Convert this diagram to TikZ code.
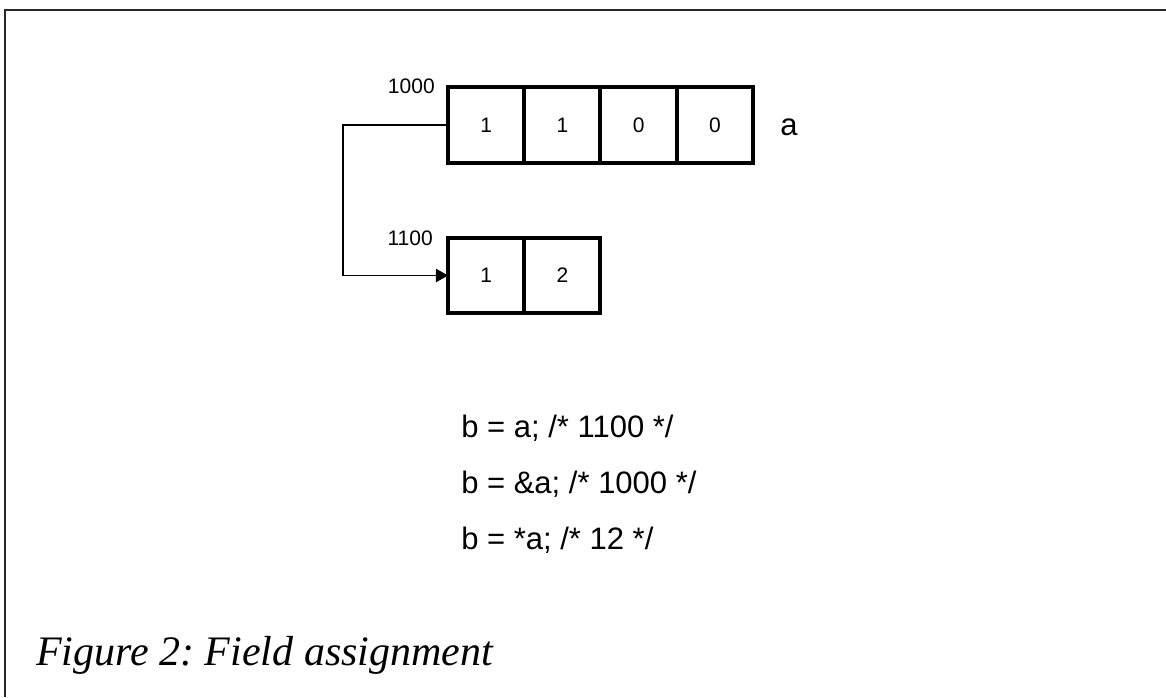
\documentclass[tikz,border=0pt]{standalone}
\usepackage{fontspec}
\setmainfont{Liberation Sans}
\newfontfamily\capfont{Liberation Serif}
\usetikzlibrary{arrows.meta}
\frenchspacing
\tikzset{
  cell/.style={draw=black, line width=3pt, minimum width=76.25*0.75pt, minimum height=76*0.75pt,
    inner sep=0pt, outer sep=0pt, font=\fontsize{15.75pt}{18pt}\selectfont},
  addr/.style={anchor=base east, inner sep=0pt, font=\fontsize{15.75pt}{18pt}\selectfont},
  code/.style={anchor=base west, inner sep=0pt, font=\fontsize{23.25pt}{27pt}\selectfont},
  conn/.style={line width=1.1pt, -{Triangle[length=9pt,width=10pt]}},
  frame/.style={line width=1.5pt, draw=black!85}
}
\begin{document}
\begin{tikzpicture}[x=0.75pt,y=-0.75pt]
\useasboundingbox (0,0) rectangle (1166,697);
\draw[frame] (5,697) -- (5,10) -- (1166,10);
% top array
\node[cell] (a1) at (486.1,125) {1};
\node[cell, anchor=west] (a2) at (a1.east) {1};
\node[cell, anchor=west] (a3) at (a2.east) {0};
\node[cell, anchor=west] (a4) at (a3.east) {0};
% bottom array
\node[cell, minimum height=75*0.75pt] (b1) at (486.1,275.5) {1};
\node[cell, minimum height=75*0.75pt, anchor=west] (b2) at (b1.east) {2};
% labels
\node[addr] (l1000) at ([shift={(-13,6)}]a1.north west) {1000};
\node[addr] (l1100) at ([shift={(-15,7)}]b1.north west) {1100};
\node[code] (alabel) at (780,135) {a};
% connector
\coordinate (bend) at (343,125);
\draw[conn] (a1.west) -- (bend) |- (b1.west);
% code
\node[code] (c1) at (461,437) {b = a; /* 1100 */};
\node[code] (c2) at (461,493) {b = \&a; /* 1000 */};
\node[code] (c3) at (461,549) {b = *a; /* 12 */};
% caption
\node[anchor=base west, inner sep=0pt, font=\capfont\itshape\fontsize{31.5pt}{36pt}\selectfont] (cap) at (36,665) {Figure 2: Field assignment};
\end{tikzpicture}
\end{document}
